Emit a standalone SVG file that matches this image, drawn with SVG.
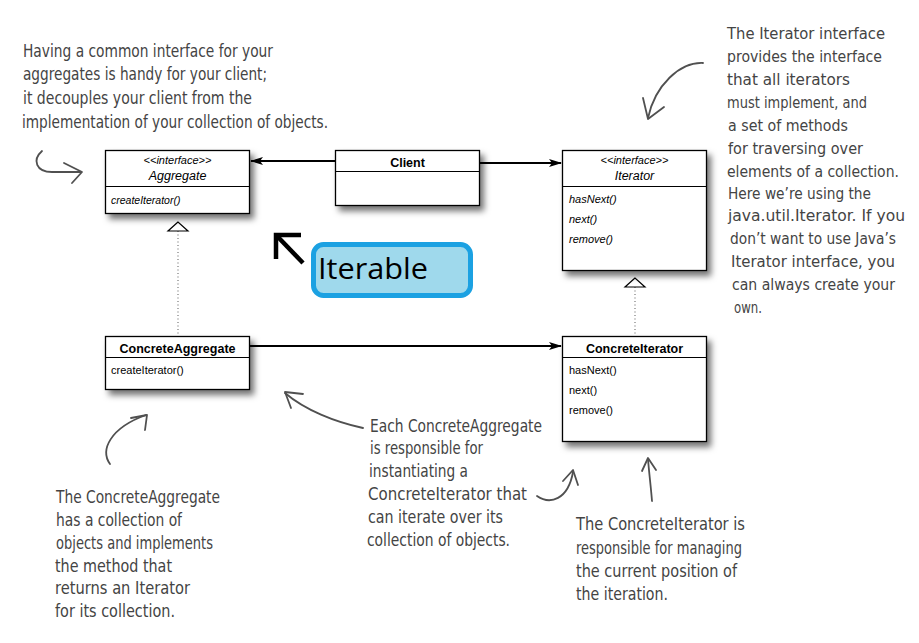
<svg xmlns="http://www.w3.org/2000/svg" width="919" height="643" viewBox="0 0 919 643">
<style>
.box{fill:#fff;stroke:#000;stroke-width:1.3}
.div{stroke:#000;stroke-width:1}
.t{font-family:"Liberation Sans",Arial,sans-serif;fill:#000}
.title{font-size:12.5px;font-weight:bold}
.it{font-style:italic}
.m{font-size:11px}
.conn{stroke:#000;stroke-width:2.2;fill:none}
.dot{stroke:#777;stroke-width:1.2;stroke-dasharray:1 2.5;fill:none}
.tri{fill:#fff;stroke:#000;stroke-width:1.2}
.hand{font-family:"DejaVu Sans Condensed","DejaVu Sans",sans-serif;font-size:18px;fill:#444}
.hs{font-size:15px}
.harrow{stroke:#505050;stroke-width:1.8;fill:none;stroke-linecap:round;stroke-linejoin:round}
</style>
<defs>
<filter id="sh" x="-10%" y="-10%" width="130%" height="140%">
<feDropShadow dx="4" dy="5" stdDeviation="3" flood-color="#000" flood-opacity="0.55"/>
</filter>
<marker id="ah" markerWidth="13" markerHeight="10" refX="12" refY="5" orient="auto" markerUnits="userSpaceOnUse">
<path d="M0,1 L13,5 L0,9 L3,5 z" fill="#000"/>
</marker>
</defs>
<rect width="919" height="643" fill="#fff"/>

<g id="connectors">
<line class="conn" x1="335" y1="161" x2="251" y2="161" marker-end="url(#ah)"/>
<line class="conn" x1="479" y1="163" x2="561" y2="163" marker-end="url(#ah)"/>
<line class="conn" x1="250" y1="346" x2="561" y2="346" marker-end="url(#ah)"/>
<line class="dot" x1="178" y1="231" x2="178" y2="336"/>
<polygon class="tri" points="178,222 168,231 188,231"/>
<line class="dot" x1="635" y1="287" x2="635" y2="336"/>
<polygon class="tri" points="635,278 625,287 645,287"/>
</g>

<g id="aggregate">
<rect class="box" x="105.5" y="150.5" width="144" height="63" filter="url(#sh)"/>
<line class="div" x1="105.5" y1="186.5" x2="249.5" y2="186.5"/>
<text class="t it m" x="177.5" y="164" text-anchor="middle">&lt;&lt;interface&gt;&gt;</text>
<text class="t it" font-size="12.5" x="177.5" y="180" text-anchor="middle">Aggregate</text>
<text class="t it" font-size="10.5" x="111" y="204">createIterator()</text>
</g>

<g id="client">
<rect class="box" x="335.5" y="150.5" width="144" height="55" filter="url(#sh)"/>
<line class="div" x1="335.5" y1="171.5" x2="479.5" y2="171.5"/>
<text class="t title" x="407.5" y="167" text-anchor="middle">Client</text>
</g>

<g id="iterator">
<rect class="box" x="562.5" y="150.5" width="144" height="120" filter="url(#sh)"/>
<line class="div" x1="562.5" y1="186.5" x2="706.5" y2="186.5"/>
<text class="t it m" x="634.5" y="164" text-anchor="middle">&lt;&lt;interface&gt;&gt;</text>
<text class="t it" font-size="12.5" x="634.5" y="180" text-anchor="middle">Iterator</text>
<text class="t it m" x="569" y="203">hasNext()</text>
<text class="t it m" x="569" y="223">next()</text>
<text class="t it m" x="569" y="243">remove()</text>
</g>

<g id="concreteAggregate">
<rect class="box" x="105.5" y="336.5" width="144" height="53" filter="url(#sh)"/>
<line class="div" x1="105.5" y1="357.5" x2="249.5" y2="357.5"/>
<text class="t title" x="177.5" y="353" text-anchor="middle">ConcreteAggregate</text>
<text class="t m" x="111" y="374">createIterator()</text>
</g>

<g id="concreteIterator">
<rect class="box" x="562.5" y="336.5" width="144" height="105" filter="url(#sh)"/>
<line class="div" x1="562.5" y1="357.5" x2="706.5" y2="357.5"/>
<text class="t title" x="634.5" y="353" text-anchor="middle">ConcreteIterator</text>
<text class="t m" x="569" y="374">hasNext()</text>
<text class="t m" x="569" y="394">next()</text>
<text class="t m" x="569" y="414">remove()</text>
</g>

<g id="iterable">
<rect x="313.5" y="244.5" width="157" height="51" rx="10" fill="#9fd9ec" stroke="#1ba1e2" stroke-width="5"/>
<text x="318" y="279" font-family="'Open Sans','Liberation Sans',sans-serif" font-size="30" fill="#000" textLength="110" lengthAdjust="spacingAndGlyphs">Iterable</text>
<path d="M303,263 L277,236" stroke="#000" stroke-width="4.5" fill="none"/>
<path d="M301,235 L276,235 L276,259" stroke="#000" stroke-width="4.5" fill="none"/>
</g>

<g id="note-aggregate">
<text class="hand" x="23" y="57" textLength="250" lengthAdjust="spacingAndGlyphs">Having a common interface for your</text>
<text class="hand" x="23" y="80" textLength="244" lengthAdjust="spacingAndGlyphs">aggregates is handy for your client;</text>
<text class="hand" x="23" y="104" textLength="229" lengthAdjust="spacingAndGlyphs">it decouples your client from the</text>
<text class="hand" x="22" y="128" textLength="306" lengthAdjust="spacingAndGlyphs">implementation of your collection of objects.</text>
<path class="harrow" d="M42,151 C32,160 36,172 52,172 L81,172"/>
<path class="harrow" d="M64,163 L82,172 L72,183"/>
</g>

<g id="note-iterator">
<text class="hand hs" x="727" y="39" textLength="158" lengthAdjust="spacingAndGlyphs">The Iterator interface</text>
<text class="hand hs" x="727" y="62" textLength="155" lengthAdjust="spacingAndGlyphs">provides the interface</text>
<text class="hand hs" x="727" y="85" textLength="123" lengthAdjust="spacingAndGlyphs">that all iterators</text>
<text class="hand hs" x="727" y="108" textLength="140" lengthAdjust="spacingAndGlyphs">must implement, and</text>
<text class="hand hs" x="728" y="131" textLength="120" lengthAdjust="spacingAndGlyphs">a set of methods</text>
<text class="hand hs" x="728" y="154" textLength="135" lengthAdjust="spacingAndGlyphs">for traversing over</text>
<text class="hand hs" x="727" y="177" textLength="172" lengthAdjust="spacingAndGlyphs">elements of a collection.</text>
<text class="hand hs" x="728" y="199" textLength="143" lengthAdjust="spacingAndGlyphs">Here we’re using the</text>
<text class="hand hs" x="728" y="221" textLength="177" lengthAdjust="spacingAndGlyphs">java.util.Iterator.  If you</text>
<text class="hand hs" x="730" y="244" textLength="166" lengthAdjust="spacingAndGlyphs">don’t want to use Java’s</text>
<text class="hand hs" x="731" y="267" textLength="164" lengthAdjust="spacingAndGlyphs">Iterator interface, you</text>
<text class="hand hs" x="732" y="290" textLength="163" lengthAdjust="spacingAndGlyphs">can always create your</text>
<text class="hand hs" x="734" y="313" textLength="28" lengthAdjust="spacingAndGlyphs">own.</text>
<path class="harrow" d="M703,63 C680,62 655,85 648,118"/>
<path class="harrow" d="M643,98 L648,119 L664,107"/>
</g>

<g id="note-concreteAggregate">
<text class="hand" x="56" y="503" textLength="164" lengthAdjust="spacingAndGlyphs">The ConcreteAggregate</text>
<text class="hand" x="56" y="526" textLength="126" lengthAdjust="spacingAndGlyphs">has a collection of</text>
<text class="hand" x="56" y="549" textLength="157" lengthAdjust="spacingAndGlyphs">objects and implements</text>
<text class="hand" x="55" y="572" textLength="117" lengthAdjust="spacingAndGlyphs">the method that</text>
<text class="hand" x="55" y="594" textLength="135" lengthAdjust="spacingAndGlyphs">returns an Iterator</text>
<text class="hand" x="55" y="617" textLength="120" lengthAdjust="spacingAndGlyphs">for its collection.</text>
<path class="harrow" d="M110,464 C100,450 110,428 146,415"/>
<path class="harrow" d="M131,418 L147,415 L145,430"/>
</g>

<g id="note-each">
<text class="hand" x="370" y="432" textLength="172" lengthAdjust="spacingAndGlyphs">Each ConcreteAggregate</text>
<text class="hand" x="370" y="454" textLength="113" lengthAdjust="spacingAndGlyphs">is responsible for</text>
<text class="hand" x="369" y="477" textLength="99" lengthAdjust="spacingAndGlyphs">instantiating a</text>
<text class="hand" x="368" y="500" textLength="159" lengthAdjust="spacingAndGlyphs">ConcreteIterator that</text>
<text class="hand" x="368" y="523" textLength="135" lengthAdjust="spacingAndGlyphs">can iterate over its</text>
<text class="hand" x="367" y="546" textLength="143" lengthAdjust="spacingAndGlyphs">collection of objects.</text>
<path class="harrow" d="M363,428 C335,422 305,410 285,393"/>
<path class="harrow" d="M303,394 L285,392 L291,408"/>
<path class="harrow" d="M537,496 C550,505 568,500 573,472"/>
<path class="harrow" d="M563,481 L573,470 L578,485"/>
</g>

<g id="note-concreteIterator">
<text class="hand" x="576" y="530" textLength="169" lengthAdjust="spacingAndGlyphs">The ConcreteIterator is</text>
<text class="hand" x="576" y="554" textLength="166" lengthAdjust="spacingAndGlyphs">responsible for managing</text>
<text class="hand" x="576" y="577" textLength="161" lengthAdjust="spacingAndGlyphs">the current position of</text>
<text class="hand" x="576" y="600" textLength="92" lengthAdjust="spacingAndGlyphs">the iteration.</text>
<path class="harrow" d="M652,501 C651,488 649,472 648,459"/>
<path class="harrow" d="M642,471 L648,458 L656,470"/>
</g>
</svg>
